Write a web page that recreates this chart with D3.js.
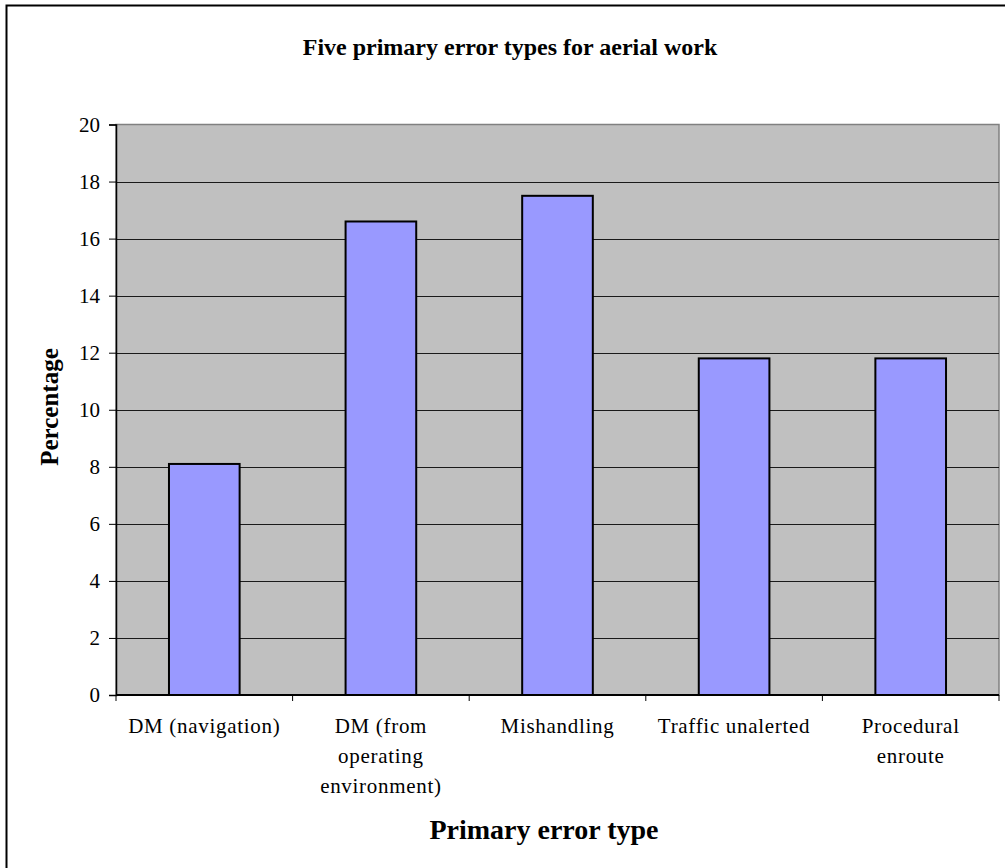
<!DOCTYPE html>
<html>
<head>
<meta charset="utf-8">
<script src="https://cdn.jsdelivr.net/npm/d3@7"></script>
<style>
  html, body { margin: 0; padding: 0; background: #fff; }
  svg { display: block; }
  svg text { font-family: "Liberation Serif", "Times New Roman", Times, serif; fill: #000; }
</style>
</head>
<body>
<svg id="chart" width="1005" height="868"></svg>
<script>
// Error categories (multi-line labels) and their share in percent
const categories = [
  ["DM (navigation)"],
  ["DM (from", "operating", "environment)"],
  ["Mishandling"],
  ["Traffic unalerted"],
  ["Procedural", "enroute"]
];
const percentages = [8.1, 16.6, 17.5, 11.8, 11.8];
const yTicks = [0, 2, 4, 6, 8, 10, 12, 14, 16, 18, 20];

const title = "Five primary error types for aerial work";
const xTitle = "Primary error type";
const yTitle = "Percentage";

const SERIF = "Liberation Serif, Times New Roman, serif";

const svg = d3.select("#chart");
const W = 1005, H = 868;
const plot = { left: 116, top: 124.5, right: 999, bottom: 695 };

// outer chart frame
svg.append("rect")
  .attr("x", 6.5).attr("y", 5.5)
  .attr("width", W + 10).attr("height", H + 10)
  .attr("fill", "#fff").attr("stroke", "#000").attr("stroke-width", 2);

const keys = categories.map(c => c.join(" "));
const x = d3.scaleBand()
  .domain(keys)
  .range([plot.left, plot.right])
  .paddingInner(0.6)
  .paddingOuter(0.3);

const y = d3.scaleLinear().domain([0, 20]).range([plot.bottom, plot.top]);

// plot area background
svg.append("rect")
  .attr("x", plot.left).attr("y", plot.top)
  .attr("width", plot.right - plot.left).attr("height", plot.bottom - plot.top)
  .attr("fill", "#c0c0c0").attr("stroke", "#808080").attr("stroke-width", 1.5);

// horizontal gridlines
svg.append("g")
  .selectAll("line")
  .data(yTicks.filter(t => t > 0 && t < 20))
  .join("line")
  .attr("x1", plot.left).attr("x2", plot.right)
  .attr("y1", d => Math.round(y(d)) + 0.5).attr("y2", d => Math.round(y(d)) + 0.5)
  .attr("stroke", "#1a1a1a").attr("stroke-width", 1);

// bars
svg.append("g")
  .selectAll("rect")
  .data(percentages)
  .join("rect")
  .attr("x", (d, i) => x(keys[i]))
  .attr("y", d => y(d))
  .attr("width", x.bandwidth())
  .attr("height", d => y(0) - y(d))
  .attr("fill", "#9999ff")
  .attr("stroke", "#000")
  .attr("stroke-width", 2);

// y axis
const yAxis = svg.append("g")
  .attr("transform", `translate(${plot.left},0)`)
  .call(d3.axisLeft(y).tickValues(yTicks).tickSize(7).tickPadding(9).tickFormat(d3.format("d")));
yAxis.attr("font-family", SERIF).attr("font-size", 21);
yAxis.select(".domain").attr("stroke", "#000").attr("stroke-width", 1.5);
yAxis.selectAll(".tick line").attr("stroke", "#000");
yAxis.selectAll(".tick text")
  .attr("font-family", SERIF)
  .attr("font-size", 21).attr("fill", "#000");

// x axis: ticks at band boundaries
const step = x.step();
const boundaries = d3.range(keys.length + 1).map(i => x(keys[0]) - x.paddingInner() * step / 2 + i * step);
const xAxisG = svg.append("g");
xAxisG.append("line")
  .attr("x1", plot.left).attr("x2", plot.right)
  .attr("y1", plot.bottom).attr("y2", plot.bottom)
  .attr("stroke", "#000").attr("stroke-width", 2);
xAxisG.selectAll("line.tick")
  .data(boundaries)
  .join("line")
  .attr("class", "tick")
  .attr("x1", d => d).attr("x2", d => d)
  .attr("y1", plot.bottom).attr("y2", plot.bottom + 6)
  .attr("stroke", "#000");

// category labels
const labels = svg.append("g")
  .selectAll("text")
  .data(categories)
  .join("text")
  .attr("text-anchor", "middle")
  .attr("font-family", SERIF)
  .attr("font-size", 21)
  .attr("letter-spacing", 0.7)
  .attr("x", (d, i) => x(keys[i]) + x.bandwidth() / 2)
  .attr("y", 733);
labels.selectAll("tspan")
  .data(d => d)
  .join("tspan")
  .attr("x", function () { return d3.select(this.parentNode).attr("x"); })
  .attr("dy", (d, i) => i === 0 ? 0 : 30)
  .text(d => d);

// titles
svg.append("text")
  .attr("x", 510).attr("y", 55)
  .attr("text-anchor", "middle")
  .attr("font-family", SERIF)
  .attr("font-size", 24).attr("font-weight", "bold")
  .text(title);

svg.append("text")
  .attr("x", 544).attr("y", 839)
  .attr("text-anchor", "middle")
  .attr("font-family", SERIF)
  .attr("font-size", 28).attr("font-weight", "bold")
  .text(xTitle);

svg.append("text")
  .attr("transform", "translate(58,407) rotate(-90)")
  .attr("text-anchor", "middle")
  .attr("font-family", SERIF)
  .attr("font-size", 25).attr("font-weight", "bold")
  .text(yTitle);
</script>
</body>
</html>
